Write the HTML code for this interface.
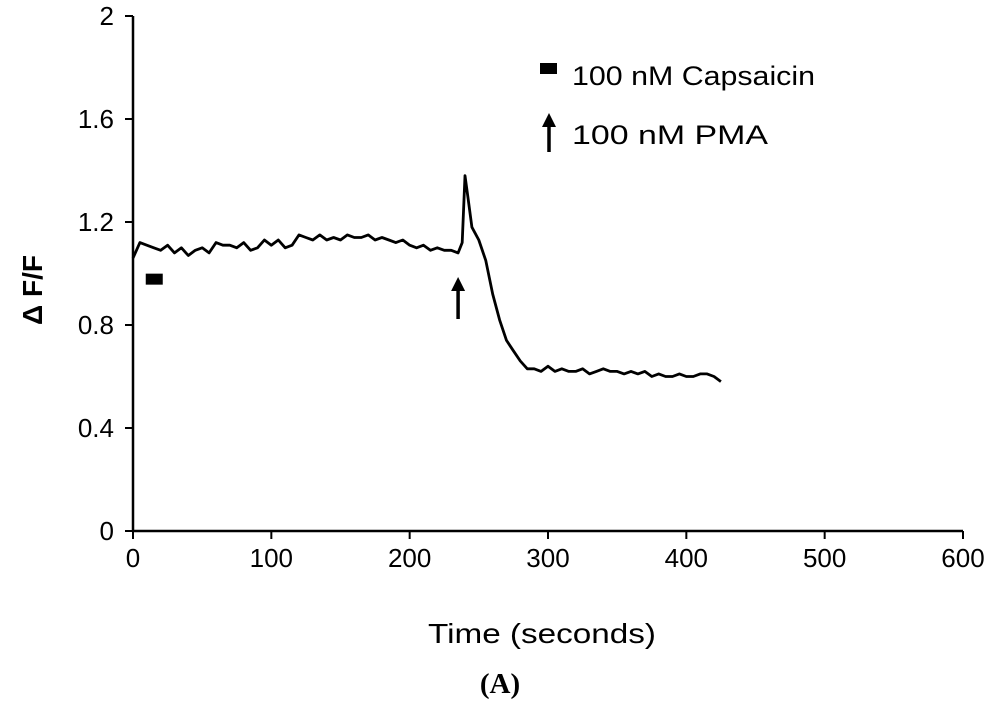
<!DOCTYPE html>
<html><head><meta charset="utf-8"><style>
html,body{margin:0;padding:0;background:#fff}
svg{display:block;font-family:"Liberation Sans",sans-serif}
</style></head><body>
<svg id="chart" width="1000" height="715" viewBox="0 0 1000 715">
<g id="axes"></g>
<g id="marks"></g>
<text x="428" y="643" font-size="28" textLength="228" lengthAdjust="spacingAndGlyphs">Time (seconds)</text>
<text transform="translate(42,290) rotate(-90)" font-size="28" text-anchor="middle" font-weight="bold">Δ F/F</text>
<text x="500" y="693" font-size="29" text-anchor="middle" font-weight="bold" font-family="Liberation Serif, serif">(A)</text>
<g>
<rect x="540" y="63" width="17" height="11" fill="#000"/>
<text x="572" y="85" font-size="27" textLength="243" lengthAdjust="spacingAndGlyphs">100 nM Capsaicin</text>
<line x1="549" y1="152" x2="549" y2="124" stroke="#000" stroke-width="3.5"/>
<polygon points="542,127 556,127 549,113" fill="#000"/>
<text x="572" y="144" font-size="27" textLength="196" lengthAdjust="spacingAndGlyphs">100 nM PMA</text>
</g>
</svg>
<script>
const times=[0,5,10,15,20,25,30,35,40,45,50,55,60,65,70,75,80,85,90,95,100,105,110,115,120,125,130,135,140,145,150,155,160,165,170,175,180,185,190,195,200,205,210,215,220,225,230,235,238,240,242,245,250,255,260,265,270,275,280,285,290,295,300,305,310,315,320,325,330,335,340,345,350,355,360,365,370,375,380,385,390,395,400,405,410,415,420,425];
const ratio=[1.06,1.12,1.11,1.10,1.09,1.11,1.08,1.10,1.07,1.09,1.10,1.08,1.12,1.11,1.11,1.10,1.12,1.09,1.10,1.13,1.11,1.13,1.10,1.11,1.15,1.14,1.13,1.15,1.13,1.14,1.13,1.15,1.14,1.14,1.15,1.13,1.14,1.13,1.12,1.13,1.11,1.10,1.11,1.09,1.10,1.09,1.09,1.08,1.12,1.38,1.30,1.18,1.13,1.05,0.92,0.82,0.74,0.70,0.66,0.63,0.63,0.62,0.64,0.62,0.63,0.62,0.62,0.63,0.61,0.62,0.63,0.62,0.62,0.61,0.62,0.61,0.62,0.60,0.61,0.60,0.60,0.61,0.60,0.60,0.61,0.61,0.60,0.58];
const xTicks=[0,100,200,300,400,500,600];
const yTicks=[0,0.4,0.8,1.2,1.6,2];
const yTickLabels=["0","0.4","0.8","1.2","1.6","2"];
const capsaicinTime=15, capsaicinLevel=0.98;
const pmaTime=235;
const NS="http://www.w3.org/2000/svg";
const X0=133,X1=963,Y0=531,Y1=16;
function xs(v){return X0+(v-0)/(600-0)*(X1-X0);}
function ys(v){return Y0-(v-0)/(2-0)*(Y0-Y1);}
function mk(tag,attrs,parent){const e=document.createElementNS(NS,tag);for(const k in attrs)e.setAttribute(k,attrs[k]);parent.appendChild(e);return e;}
const axes=document.getElementById('axes'),marks=document.getElementById('marks');
let e=mk('line',{x1:X0,y1:Y1,x2:X0,y2:Y0,stroke:'#000','stroke-width':2.5},axes);


e=mk('line',{x1:X0,y1:Y0,x2:X1,y2:Y0,stroke:'#000','stroke-width':2.5},axes);


xTicks.forEach(t=>{
 const x=xs(t);
 let l=mk('line',{x1:x,y1:Y0,x2:x,y2:Y0+8,stroke:'#000','stroke-width':2},axes);
 
 
 let tx=mk('text',{x:x,y:Y0+36,'font-size':26,'text-anchor':'middle'},axes);
 tx.textContent=t;
 
 
});
yTicks.forEach((t,i)=>{
 const y=ys(t);
 let l=mk('line',{x1:X0-8,y1:y,x2:X0,y2:y,stroke:'#000','stroke-width':2},axes);
 
 
 let tx=mk('text',{x:X0-19,y:y+9,'font-size':26,'text-anchor':'end'},axes);
 tx.textContent=yTickLabels[i];
 
 
});
const d=times.map((t,i)=>(i?'L':'M')+xs(t).toFixed(1)+','+ys(ratio[i]).toFixed(1)).join(' ');
e=mk('path',{d:d,fill:'none',stroke:'#000','stroke-width':2.8,'stroke-linejoin':'round'},marks);


e=mk('rect',{x:xs(capsaicinTime)-8,y:ys(capsaicinLevel)-5,width:17,height:11,fill:'#000'},marks);


const ax=xs(pmaTime);
e=mk('line',{x1:ax,y1:319,x2:ax,y2:288,stroke:'#000','stroke-width':3.5},marks);


e=mk('polygon',{points:(ax-7)+',291 '+(ax+7)+',291 '+ax+',277',fill:'#000'},marks);


</script>
</body></html>
